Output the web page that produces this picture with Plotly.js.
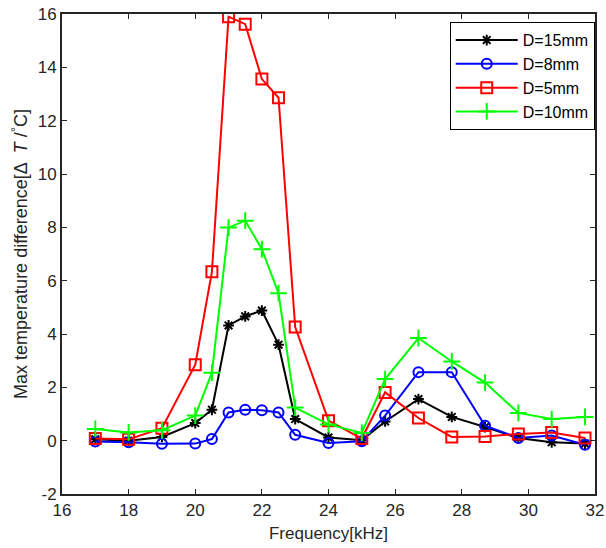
<!DOCTYPE html>
<html><head><meta charset="utf-8">
<script src="https://cdn.plot.ly/plotly-3.0.1.min.js"></script>
<style>html,body{margin:0;padding:0;background:#fff}#c{width:606px;height:548px}</style>
</head><body><div id="c"></div>
<script>
var freq = [17,18,19,20,20.5,21,21.5,22,22.5,23,24,25,25.7,26.7,27.7,28.7,29.7,30.7,31.7];
var d15 = [0.05,0.0,0.14,0.66,1.16,4.32,4.66,4.88,3.6,0.81,0.12,0.02,0.72,1.56,0.89,0.51,0.1,-0.06,-0.11];
var d8  = [-0.03,-0.06,-0.12,-0.11,0.06,1.06,1.16,1.14,1.06,0.22,-0.09,-0.02,0.94,2.57,2.57,0.56,0.1,0.19,-0.15];
var d5  = [0.08,0.05,0.47,2.85,6.33,15.9,15.62,13.56,12.86,4.26,0.75,0.08,1.81,0.85,0.14,0.16,0.25,0.31,0.1];
var d10 = [0.44,0.31,0.39,0.94,2.55,7.99,8.25,7.18,5.53,1.24,0.61,0.29,2.31,3.85,2.97,2.18,1.04,0.81,0.89];
var names = ['D=15mm','D=8mm','D=5mm','D=10mm'];
var xTicks = [16,18,20,22,24,26,28,30,32];
var yTicks = [-2,0,2,4,6,8,10,12,14,16];

var series = [d15,d8,d5,d10];
var colors = ['#000000','#0000ff','#ff0000','#00ff00'];
var symbols = ['asterisk-open','circle-open','square-open','cross-thin-open'];
var sizes = [9,10,11,12];
var traces = series.map(function(s,i){
  return {x:freq, y:s, name:names[i], type:'scatter', mode:'lines+markers',
    line:{color:colors[i], width:2},
    marker:{symbol:symbols[i], size:sizes[i], color:colors[i], line:{color:colors[i], width:2}}};
});
var axisCommon = {showline:true, linecolor:'#262626', linewidth:2, mirror:'ticks',
  ticks:'inside', ticklen:5, tickcolor:'#262626', showgrid:false, zeroline:false,
  tickfont:{family:'Liberation Sans, Arial, sans-serif', size:17, color:'#262626'}};
var layout = {
  width:606, height:548,
  margin:{l:62, r:11, t:14, b:54},
  paper_bgcolor:'#fff', plot_bgcolor:'#fff',
  font:{family:'Liberation Sans, Arial, sans-serif', color:'#262626'},
  xaxis:Object.assign({}, axisCommon, {range:[16,32], tickvals:xTicks, ticktext:xTicks.map(String),
    title:{text:'Frequency[kHz]', font:{size:17, color:'#262626'}, standoff:8}}),
  yaxis:Object.assign({}, axisCommon, {range:[-2,16], tickvals:yTicks, ticktext:yTicks.map(String),
    title:{text:'Max temperature difference[Δ  <i>T</i> /<sup>°</sup>C]', font:{size:18, color:'#262626'}, standoff:5}}),
  legend:{x:0.9995, xanchor:'right', y:0.983, yanchor:'top', bgcolor:'#fff', bordercolor:'#000', borderwidth:1,
    font:{size:16, color:'#000'}, tracegroupgap:0, itemwidth:62},
  showlegend:true
};
Plotly.newPlot('c', traces, layout, {staticPlot:true, displayModeBar:false});
</script></body></html>
